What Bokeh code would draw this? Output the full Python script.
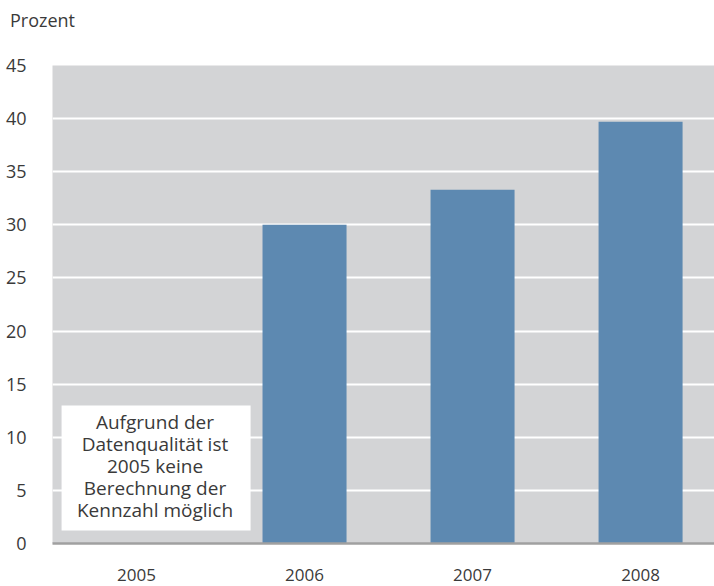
from bokeh.plotting import figure
from bokeh.models import ColumnDataSource, FixedTicker, Range1d, BoxAnnotation, Label, Div
from bokeh.layouts import column
from bokeh.embed import file_html
from bokeh.resources import INLINE

years = ["2005", "2006", "2007", "2008"]
positions = [0, 1, 2, 3]
values = [None, 30.0, 33.3, 39.7]
y_ticks = [0, 5, 10, 15, 20, 25, 30, 35, 40, 45]
unit_label = "Prozent"
note_text = "Aufgrund der\nDatenqualität ist\n2005 keine\nBerechnung der\nKennzahl möglich"

FONT = "Open Sans"
TXT = "#3a3a3a"

xs = [p for p, v in zip(positions, values) if v is not None]
vs = [v for v in values if v is not None]
src = ColumnDataSource(dict(x=xs, top=vs))

head = Div(text=unit_label, width=200, height=40, margin=(8, 0, 0, 10),
           styles={"font-family": FONT, "font-size": "18px", "color": TXT,
                   "line-height": "24px"})

p = figure(width=714, height=538, output_backend="svg", toolbar_location=None,
           x_range=Range1d(-0.5, 3.44), y_range=Range1d(0, 45),
           min_border_left=52, min_border_right=0, min_border_top=17, min_border_bottom=43,
           margin=(0, 0, 0, 0))
p.background_fill_color = "#d3d4d6"
p.border_fill_color = "white"
p.outline_line_color = None

p.vbar(x="x", top="top", width=0.5, bottom=0, source=src, color="#5d89b1", line_color=None)

p.xgrid.grid_line_color = None
p.ygrid.grid_line_color = "white"
p.ygrid.grid_line_width = 2
p.ygrid.ticker = FixedTicker(ticks=y_ticks)

p.yaxis.ticker = FixedTicker(ticks=y_ticks)
p.yaxis.axis_line_color = None
p.yaxis.major_tick_line_color = None
p.yaxis.minor_tick_line_color = None
p.yaxis.major_label_standoff = 20
p.yaxis.major_label_text_font = FONT
p.yaxis.major_label_text_font_size = "18px"
p.yaxis.major_label_text_color = TXT

p.xaxis.ticker = FixedTicker(ticks=positions)
p.xaxis.major_label_overrides = {pp: y for pp, y in zip(positions, years)}
p.xaxis.axis_line_color = "#a0a0a0"
p.xaxis.axis_line_width = 2.5
p.xaxis.major_tick_line_color = None
p.xaxis.minor_tick_line_color = None
p.xaxis.major_label_standoff = 19
p.xaxis.major_label_text_font = FONT
p.xaxis.major_label_text_font_size = "17px"
p.xaxis.major_label_text_color = TXT

# note box
p.add_layout(BoxAnnotation(left=-0.446, right=0.679, bottom=1.22, top=13.0,
                           fill_color="white", fill_alpha=1, line_color=None))
p.add_layout(Label(x=0.110, y=7.3, text=note_text, text_align="center", text_baseline="middle",
                   text_font=FONT, text_font_size="19px", text_color=TXT, text_line_height=0.85))

layout = column(head, p, spacing=0)
open("out.html", "w").write(file_html(layout, INLINE))
